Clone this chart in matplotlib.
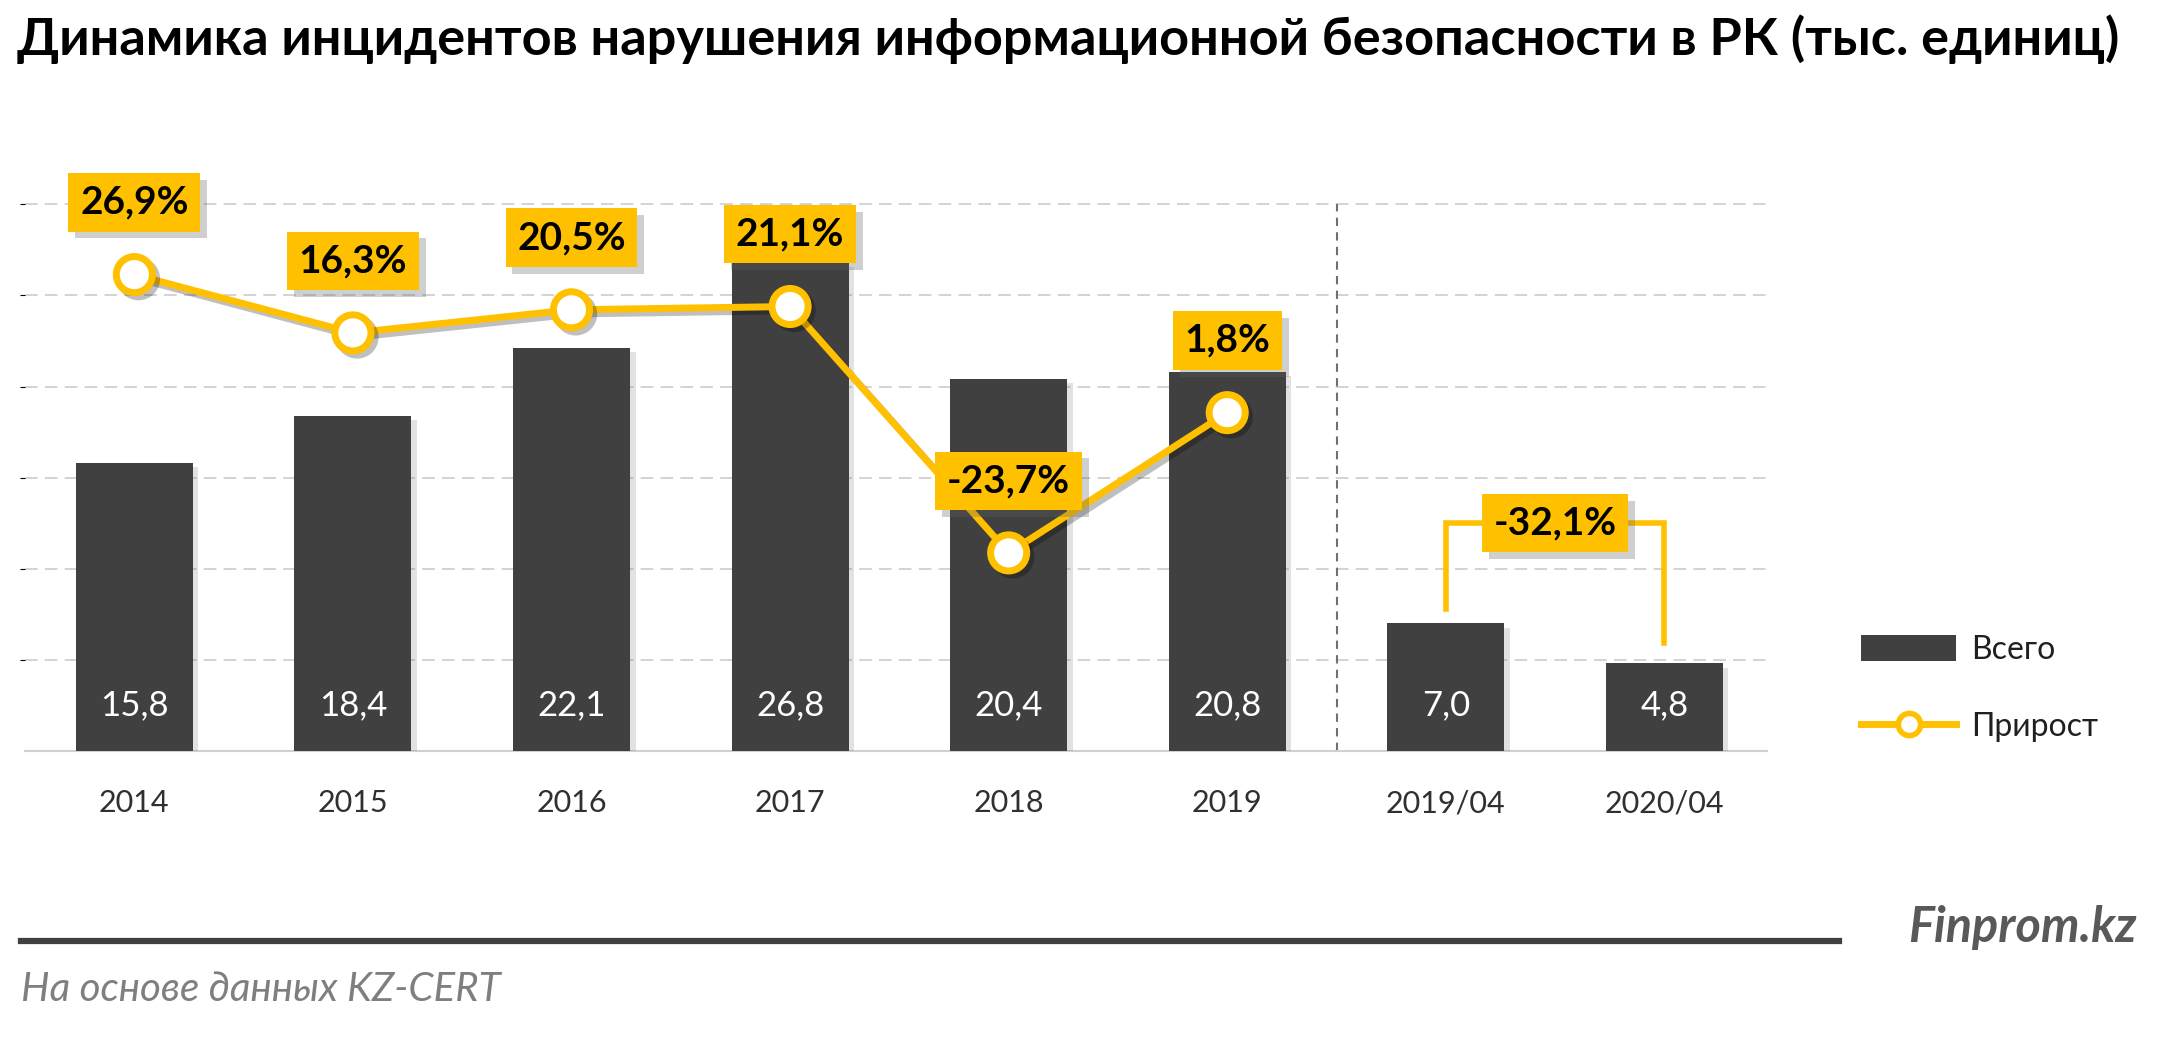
import matplotlib
matplotlib.use("Agg")
import matplotlib.pyplot as plt
import matplotlib.patheffects as pe
from matplotlib.patches import Patch
from matplotlib.lines import Line2D

plt.rcParams['font.family'] = ['Lato', 'DejaVu Sans']

# --- данные ---
categories = ['2014', '2015', '2016', '2017', '2018', '2019', '2019/04', '2020/04']
totals = [15.8, 18.4, 22.1, 26.8, 20.4, 20.8, 7.0, 4.8]
growth = [26.9, 16.3, 20.5, 21.1, -23.7, 1.8]
growth_q = -32.1

BAR = '#404040'
GOLD = '#FFC000'


def fmt(v):
    return f"{v:.1f}".replace('.', ',')


fig = plt.figure(figsize=(21.6, 10.4), dpi=100)
ax = fig.add_axes([0.0116, 0.278, 0.8065, 0.578])
x = list(range(len(categories)))

shadow = [pe.SimplePatchShadow(offset=(4, -3), alpha=0.18, shadow_rgbFace='#606060'), pe.Normal()]
bars = ax.bar(x, totals, width=0.535, color=BAR, zorder=3)
for b in bars:
    b.set_path_effects(shadow)
for xi, v in zip(x, totals):
    ax.text(xi, 2.5, fmt(v), color='white', ha='center', va='center', fontsize=25, zorder=4)

ax.set_xlim(-0.5, 7.47)
ax.set_ylim(0, 33.0)
ax.set_yticks([5, 10, 15, 20, 25, 30])
ax.yaxis.grid(True, color='#d0d0d0', linestyle=(0, (7, 4)), linewidth=1.3, zorder=0)
ax.set_axisbelow(True)
ax.tick_params(axis='y', left=False, labelleft=False)
ax.tick_params(axis='x', bottom=False, pad=24, labelsize=22, labelcolor='#303030')
ax.set_xticks(x)
ax.set_xticklabels(categories)
for s in ['top', 'right', 'left']:
    ax.spines[s].set_visible(False)
ax.spines['bottom'].set_color('#d0d0d0')
ax.spines['bottom'].set_linewidth(1.5)

# разделитель годовых и квартальных данных
ax.plot([5.5, 5.5], [0, 30], color='#707070', linestyle=(0, (4, 3)), linewidth=1.5, zorder=1)

# прирост (вторая ось)
ax2 = ax.twinx()
ax2.set_ylim(-59.7, 49.6)
ax2.axis('off')
line, = ax2.plot(x[:len(growth)], growth, color=GOLD, linewidth=5, marker='o', markersize=26,
                 markerfacecolor='white', markeredgecolor=GOLD, markeredgewidth=5, zorder=5)
line.set_path_effects([pe.SimpleLineShadow(offset=(3, -3), alpha=0.25), pe.Normal()])

box_fx = [pe.withSimplePatchShadow(offset=(5, -5), alpha=0.3, shadow_rgbFace='#606060')]
for xi, g in zip(x, growth):
    t = ax2.annotate(fmt(g) + '%', (xi, g), xytext=(0, 52), textcoords='offset points',
                     ha='center', va='center', fontsize=28, fontweight='bold', color='black',
                     bbox=dict(boxstyle='square,pad=0.3', fc=GOLD, ec='none'), zorder=6)
    t.get_bbox_patch().set_path_effects(box_fx)

# скобка для квартального прироста
top_q = max(totals[6:]) + 5.5
ax.plot([6, 6, 7, 7], [totals[6] + 0.8, top_q, top_q, totals[7] + 1.1],
        color=GOLD, linewidth=4, zorder=5, solid_joinstyle='miter')
tq = ax.text(6.5, top_q, fmt(growth_q) + '%', ha='center', va='center', fontsize=28,
             fontweight='bold', color='black', zorder=6,
             bbox=dict(boxstyle='square,pad=0.3', fc=GOLD, ec='none'))
tq.get_bbox_patch().set_path_effects(box_fx)

# легенда
handles = [Patch(facecolor=BAR, edgecolor='none', label='Всего'),
           Line2D([], [], color=GOLD, linewidth=5, marker='o', markersize=16,
                  markerfacecolor='white', markeredgecolor=GOLD, markeredgewidth=4, label='Прирост')]
fig.legend(handles=handles, loc='upper left', bbox_to_anchor=(0.854, 0.405), frameon=False,
           fontsize=23, handlelength=3.0, handleheight=0.9, handletextpad=0.45,
           labelspacing=1.45, borderpad=0, labelcolor='#202020')

# заголовок и подвал
fig.text(0.008, 0.962, 'Динамика инцидентов нарушения информационной безопасности в РК (тыс. единиц)',
         fontsize=37.6, fontweight='bold', ha='left', va='center', color='black')
fig.add_artist(Line2D([21 / 2160, 1839 / 2160], [0.0952, 0.0952], color='#404040', linewidth=4.5))
fig.text(0.989, 0.108, 'Finprom.kz', fontsize=35, fontweight='bold', style='italic',
         ha='right', va='center', color='#595959')
fig.text(0.0097, 0.049, 'На основе данных KZ-CERT', fontsize=29, style='italic',
         ha='left', va='center', color='#7f7f7f')

fig.savefig('out.png', dpi=100)
